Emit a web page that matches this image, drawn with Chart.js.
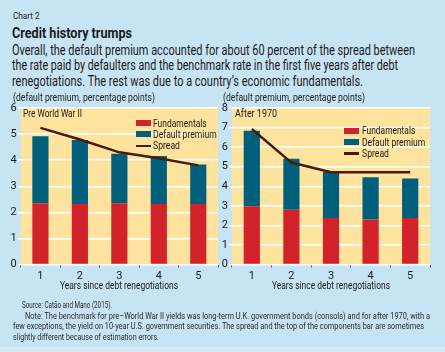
<!DOCTYPE html>
<html>
<head>
<meta charset="utf-8">
<script src="https://cdn.jsdelivr.net/npm/chart.js@4"></script>
<style>
  body { margin: 0; width: 445px; height: 352px; background: #c6e4f4; position: relative; overflow: hidden;
         font-family: Roboto, "Liberation Sans", sans-serif; color: #1a1a1a; }
  .t { position: absolute; white-space: nowrap; transform-origin: 0 0; z-index: 2; }
  canvas { position: absolute; }
  .sw { position: absolute; width: 15px; height: 6px; z-index: 2; }
  .ln { position: absolute; width: 15px; height: 2.5px; background: #4b1a0a; z-index: 2; }
  #band { position: absolute; left: 0; top: 347px; width: 445px; height: 5px; background: #d3ebf7; }
</style>
</head>
<body>
<div id="band"></div>
<canvas id="left" width="222" height="200" style="left:0;top:100px;"></canvas>
<canvas id="right" width="223" height="200" style="left:222px;top:100px;"></canvas>

<!-- legend swatches -->
<div class="sw" style="left:136px;top:120px;background:#d2232a"></div>
<div class="sw" style="left:136px;top:131px;background:#005f7a"></div>
<div class="ln" style="left:136px;top:144.5px;"></div>
<div class="sw" style="left:344px;top:128px;background:#d2232a"></div>
<div class="sw" style="left:344px;top:139.3px;background:#005f7a"></div>
<div class="ln" style="left:344px;top:152px;"></div>

<script>
let years = ["1", "2", "3", "4", "5"];

// Pre World War II
let preFund = [2.35, 2.32, 2.35, 2.32, 2.32];
let prePremium = [2.57, 2.45, 1.90, 1.84, 1.51];
let preSpread = [5.24, 4.79, 4.30, 4.07, 3.80];

// After 1970
let postFund = [2.98, 2.80, 2.38, 2.30, 2.38];
let postPremium = [3.86, 2.61, 2.35, 2.16, 2.02];
let postSpread = [6.93, 5.21, 4.72, 4.72, 4.72];

let font = "Roboto, 'Liberation Sans', sans-serif";

/* text lines: [text, left, centre y, size, width, bold, colour] */
let texts = [
    ["Chart 2", 12.5, 16, 9, 26.5, false],
    ["Credit history trumps", 12, 33, 14, 120, true],
    ["Overall, the default premium accounted for about 60 percent of the spread between", 12, 50, 14, 403, false],
    ["the rate paid by defaulters and the benchmark rate in the first five years after debt", 12, 65.7, 14, 386, false],
    ["renegotiations. The rest was due to a country’s economic fundamentals.", 12, 81.3, 14, 351, false],
    ["(default premium, percentage points)", 12.5, 98, 10.5, 142, false],
    ["(default premium, percentage points)", 222.7, 98, 10.5, 142, false],
    ["Pre World War II", 23.3, 114.3, 10.5, 59, false],
    ["After 1970", 235, 114, 10.5, 42, false],
    ["Fundamentals", 153, 123.3, 11, 53.7, false],
    ["Default premium", 153, 134.3, 11, 63.7, false],
    ["Spread", 153, 145.5, 11, 27, false],
    ["Fundamentals", 361.7, 131, 11, 53.3, false],
    ["Default premium", 361.7, 142.3, 11, 63.3, false],
    ["Spread", 361.7, 153.3, 11, 27, false],
    ["Years since debt renegotiations", 60, 286, 11.5, 118, false],
    ["Years since debt renegotiations", 272, 286, 11.5, 118, false],
    ["Source: Catão and Mano (2015).", 22, 305, 9, 90, false, "#2a2a2a"],
    ["Note: The benchmark for pre–World War II yields was long-term U.K. government bonds (consols) and for after 1970, with a", 25, 316, 9, 405, false, "#2a2a2a"],
    ["few exceptions, the yield on 10-year U.S. government securities. The spread and the top of the components bar are sometimes", 12.7, 326.7, 9, 411, false, "#2a2a2a"],
    ["slightly different because of estimation errors.", 12.7, 337.3, 9, 146, false, "#2a2a2a"]
];

texts.forEach(t => {
    let d = document.createElement("div");
    d.className = "t";
    d.textContent = t[0];
    d.style.fontSize = t[3] + "px";
    d.style.lineHeight = (t[3] * 1.2) + "px";
    d.style.left = t[1] + "px";
    d.style.top = (t[2] - 0.6 * t[3]) + "px";
    if (t[5]) d.style.fontWeight = "bold";
    if (t[6]) d.style.color = t[6];
    document.body.appendChild(d);
    let w = d.getBoundingClientRect().width;
    d.style.transform = "scaleX(" + (t[4] / w) + ")";
});

/* yellow plot background */
let plotBg = {
    id: "plotBg",
    beforeDraw(c) {
        let a = c.chartArea;
        c.ctx.save();
        c.ctx.fillStyle = "#fde39e";
        c.ctx.fillRect(a.left, a.top, a.right - a.left, a.bottom - a.top);
        c.ctx.restore();
    }
};

function drawPanel(id, fund, premium, spread, yMax, yWidth, padRight) {

    let ctx = document.getElementById(id).getContext("2d");

    return new Chart(ctx, {
        data: {
            labels: years,
            datasets: [
                {
                    type: "line",
                    label: "Spread",
                    data: spread,
                    borderColor: "#4b1a0a",
                    borderWidth: 2.5,
                    pointRadius: 0,
                    tension: 0,
                    order: 0
                },
                {
                    type: "bar",
                    label: "Fundamentals",
                    data: fund,
                    backgroundColor: "#d2232a",
                    barPercentage: 0.41,
                    categoryPercentage: 1,
                    order: 1
                },
                {
                    type: "bar",
                    label: "Default premium",
                    data: premium,
                    backgroundColor: "#005f7a",
                    barPercentage: 0.41,
                    categoryPercentage: 1,
                    order: 1
                }
            ]
        },
        options: {
            responsive: false,
            animation: false,
            layout: {
                padding: { left: 0, right: padRight, top: 8, bottom: 0 }
            },
            plugins: {
                legend: { display: false },
                tooltip: { enabled: false }
            },
            scales: {
                x: {
                    stacked: true,
                    offset: true,
                    grid: {
                        offset: true,
                        drawOnChartArea: false,
                        color: "#5a4a3a",
                        tickLength: 3
                    },
                    border: { display: false },
                    ticks: {
                        color: "#1a1a1a",
                        padding: 2,
                        font: { family: font, size: 11 }
                    },
                    afterFit(s) { s.height = 35.5; }
                },
                y: {
                    stacked: true,
                    min: 0,
                    max: yMax,
                    ticks: {
                        stepSize: 1,
                        color: "#1a1a1a",
                        padding: 1,
                        font: { family: font, size: 11 }
                    },
                    grid: {
                        color: "#ffffff",
                        lineWidth: 1.5,
                        tickLength: 3
                    },
                    border: { display: false },
                    afterFit(s) { s.width = yWidth; }
                }
            }
        },
        plugins: [plotBg]
    });

}

drawPanel("left", preFund, prePremium, preSpread, 6, 20.7, 4);
drawPanel("right", postFund, postPremium, postSpread, 8, 10, 15);
</script>
</body>
</html>
